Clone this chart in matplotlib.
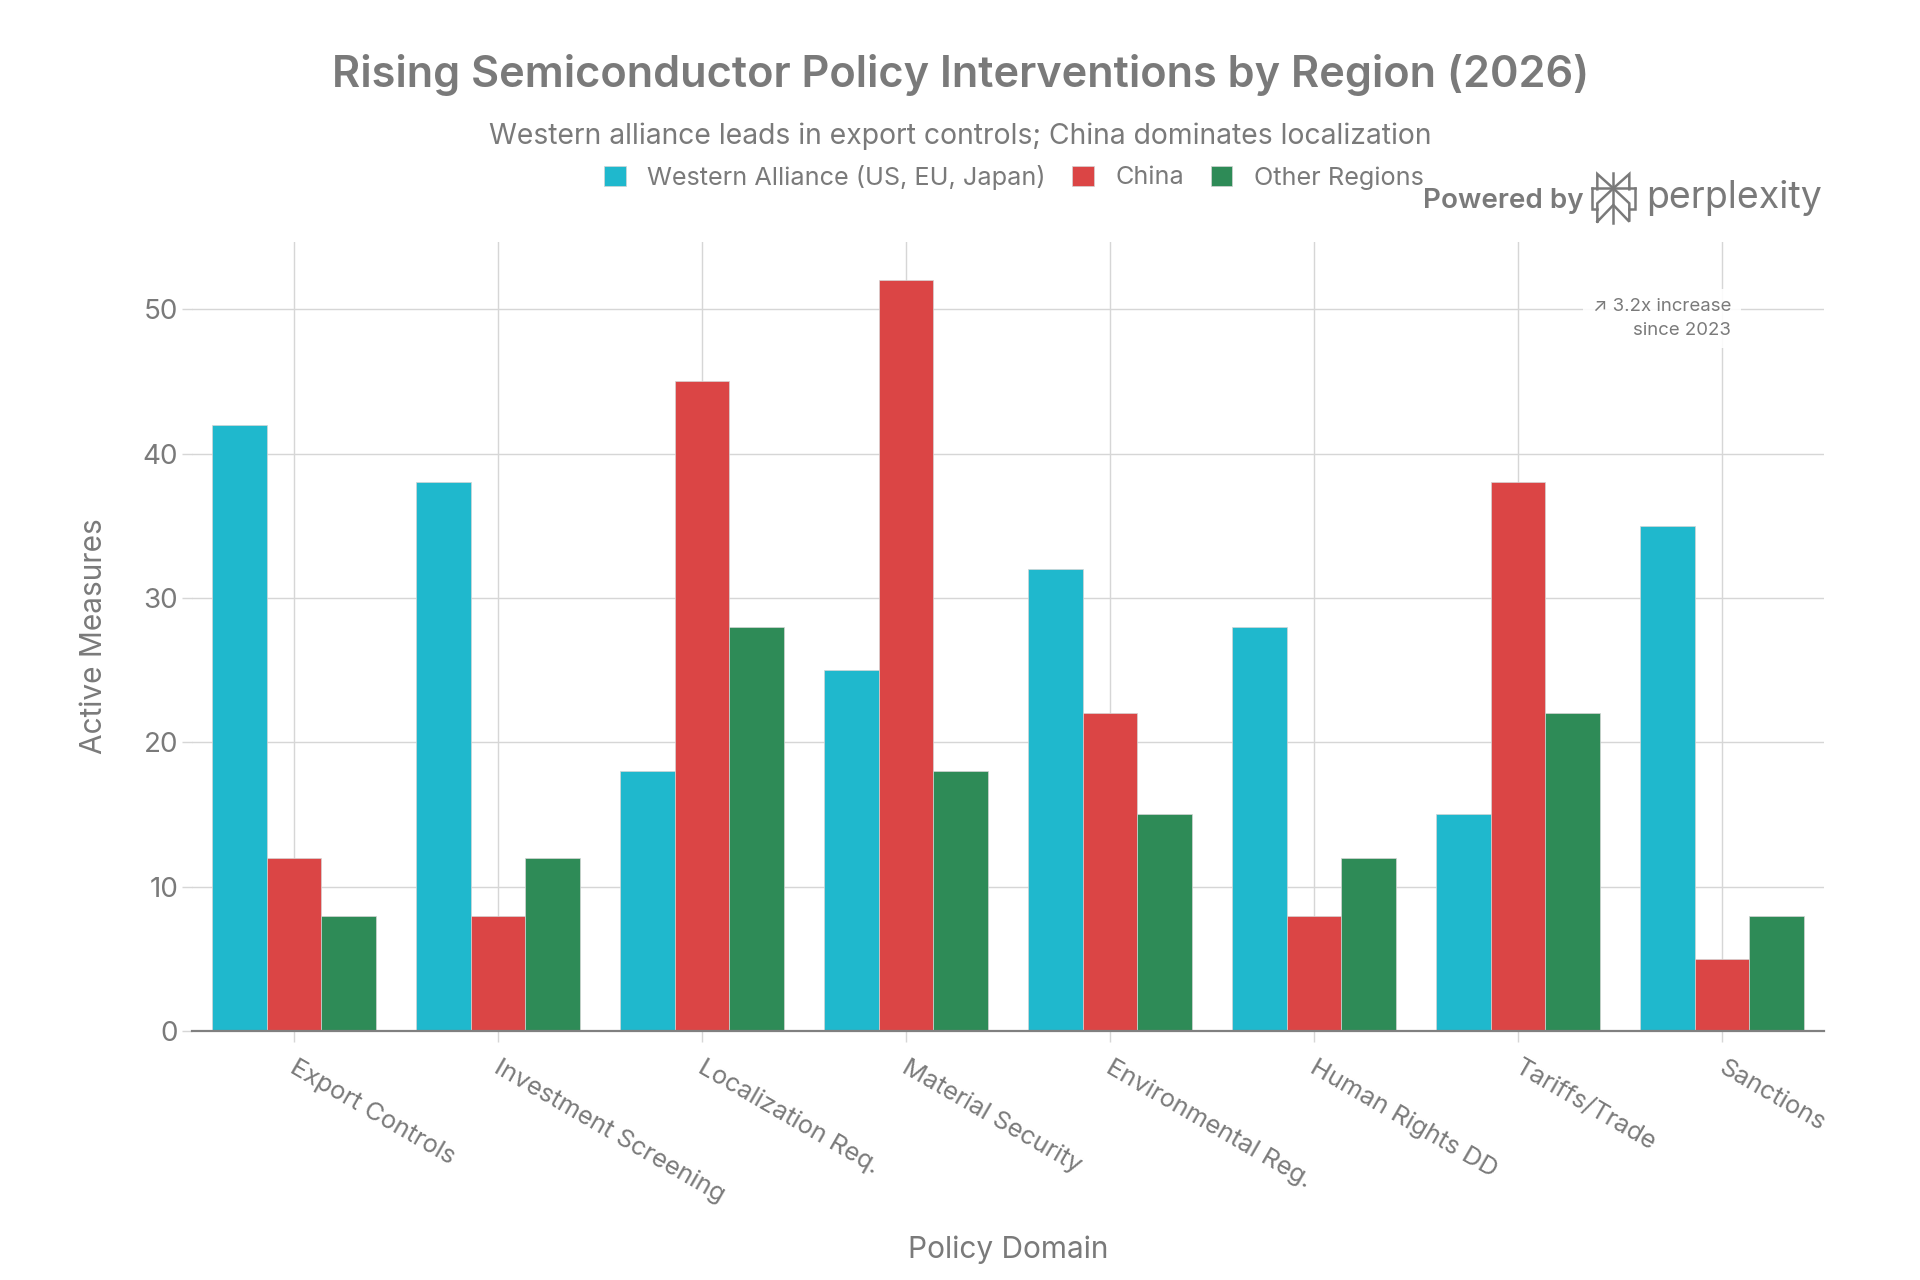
"""Semiconductor policy interventions by region, grouped bar chart."""

import matplotlib.pyplot as plt
import numpy as np

plt.rcParams["font.family"] = ["Inter", "DejaVu Sans"]

# data
domains = [
    "Export Controls",
    "Investment Screening",
    "Localization Req.",
    "Material Security",
    "Environmental Reg.",
    "Human Rights DD",
    "Tariffs/Trade",
    "Sanctions",
]
western = [42, 38, 18, 25, 32, 28, 15, 35]
china = [12, 8, 45, 52, 22, 8, 38, 5]
other = [8, 12, 28, 18, 15, 12, 22, 8]
series_names = ["Western Alliance (US, EU, Japan)", "China", "Other Regions"]
y_ticks = [0, 10, 20, 30, 40, 50]

GREY = "#7a7a7a"
GRID = "#d6d6d6"
COLORS = ["#1FB8CD", "#DB4545", "#2E8B57"]
W, H = 1920, 1280

fig = plt.figure(figsize=(W / 100, H / 100), dpi=100)
ax = fig.add_axes([192 / W, 1 - 1031 / H, (1824 - 192) / W, (1031 - 242) / H])

# bars
x = np.arange(len(domains))
bar_width = 0.267
for i, values in enumerate([western, china, other]):
    ax.bar(
        x + (i - 1) * bar_width,
        values,
        bar_width,
        color=COLORS[i],
        edgecolor="#d4d4d4",
        linewidth=0.5,
        label=series_names[i],
        zorder=3,
    )

ax.set_xlim(-0.5, 7.5)
ax.set_ylim(0, 54.65)
ax.set_xticks(x)
ax.set_yticks(y_ticks)
ax.set_xticklabels([])
# category labels start a little right of their tick
for pos, name in zip(x, domains):
    ax.annotate(
        name, xy=(pos, 0), xycoords=("data", "axes fraction"), xytext=(4, -25), textcoords="offset pixels",
        rotation=-30, ha="left", va="top", rotation_mode="anchor", fontsize=18.3, color=GREY,
    )
ax.tick_params(axis="x", length=8, width=1.0, color=GRID)
ax.tick_params(axis="y", length=7, width=1.0, color=GRID, labelsize=20, labelcolor=GREY, pad=3)
ax.grid(True, color=GRID, linewidth=1.0, zorder=0)
ax.set_axisbelow(True)
for side in ["top", "right", "left"]:
    ax.spines[side].set_visible(False)
ax.spines["bottom"].set_color("#808080")
ax.spines["bottom"].set_linewidth(1.6)
ax.spines["bottom"].set_zorder(4)

# titles
fig.text(961 / W, 1 - 75 / H, "Rising Semiconductor Policy Interventions by Region (2026)",
         ha="center", va="center", fontsize=31.2, fontweight="semibold", color=GREY)
fig.text(960 / W, 1 - 136 / H, "Western alliance leads in export controls; China dominates localization",
         ha="center", va="center", fontsize=20.4, color=GREY)
fig.text(1008 / W, 1 - 1250 / H, "Policy Domain", ha="center", va="center", fontsize=21.5, color=GREY)
fig.text(94 / W, 1 - 636 / H, "Active Measures", ha="center", va="center", rotation=90, fontsize=21.5, color=GREY)

# legend
fig.legend(
    loc="center", bbox_to_anchor=(1014 / W, 1 - 177 / H), ncol=3, frameon=False,
    fontsize=18.2, labelcolor=GREY, handlelength=0.85, handleheight=0.85,
    handletextpad=0.85, columnspacing=1.05,
)

# note on the chart
ax.text(7.045, 49.35, "↗ 3.2x increase\nsince 2023", ha="right", va="center", fontsize=13.4,
        color=GREY, linespacing=1.5, zorder=5,
        bbox=dict(facecolor="white", edgecolor="none", alpha=0.9, pad=7))

# branding, drawn in pixel space
overlay = fig.add_axes([0, 0, 1, 1], zorder=10)
overlay.set_xlim(0, W)
overlay.set_ylim(H, 0)
overlay.axis("off")
overlay.patch.set_alpha(0)
overlay.text(1423, 208, "Powered by", fontsize=20, fontweight="semibold", color=GREY, ha="left", va="baseline")
overlay.text(1646, 208, "perplexity", fontsize=27, color=GREY, ha="left", va="baseline")
logo_paths = [
    [(640, 68), (640, 218)],
    [(575, 115), (705, 115)],
    [(592, 118), (592, 72), (640, 115), (688, 72), (688, 118)],
    [(592, 178), (575, 178), (575, 115)],
    [(688, 178), (705, 178), (705, 115)],
    [(592, 215), (592, 160), (640, 115), (688, 160), (688, 215), (640, 165), (592, 215)],
]
for path in logo_paths:
    px = [1400 + p[0] / 3 for p in path]
    py = [150 + p[1] / 3 for p in path]
    overlay.plot(px, py, color=GREY, linewidth=1.8, solid_joinstyle="miter")

fig.savefig("out.png", dpi=100)
